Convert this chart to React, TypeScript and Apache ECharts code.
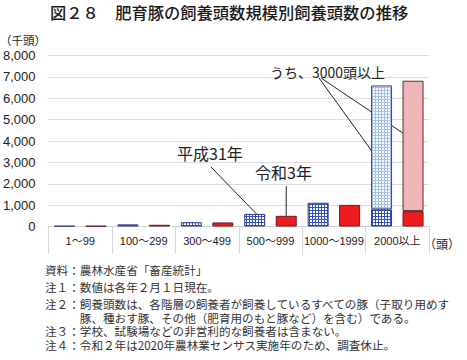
import React, { useEffect, useRef } from 'react';
import * as echarts from 'echarts';

const categories = ['1～99', '100～299', '300～499', '500～999', '1000～1999', '2000以上'];
const h31Values = [30, 100, 200, 590, 1110, 800];
const h31Over3000 = [null, null, null, null, null, 5800];
const r3Values = [25, 80, 190, 500, 1010, 720];
const r3Over3000 = [null, null, null, null, null, 6100];
const yMax = 8000;
const yInterval = 1000;

const titleText = '図２８　肥育豚の飼養頭数規模別飼養頭数の推移';
const noteSource = '資料：農林水産省「畜産統計」';
const note1 = '注１：数値は各年２月１日現在。';
const noteBlock = [
  '注２：飼養頭数は、各階層の飼養者が飼養しているすべての豚（子取り用めす',
  '　　　豚、種おす豚、その他（肥育用のもと豚など）を含む）である。',
  '注３：学校、試験場などの非営利的な飼養者は含まない。',
  '注４：令和２年は2020年農林業センサス実施年のため、調査休止。',
];

const CJK = '"Noto Sans CJK JP", "Noto Sans", sans-serif';
const LAT = '"Liberation Sans", Arial, "Noto Sans CJK JP", sans-serif';

function gridPattern(line: string, bg: string) {
  const c = document.createElement('canvas');
  c.width = 3;
  c.height = 3;
  const ctx = c.getContext('2d')!;
  ctx.fillStyle = bg;
  ctx.fillRect(0, 0, 3, 3);
  ctx.fillStyle = line;
  ctx.fillRect(0, 0, 3, 1);
  ctx.fillRect(0, 0, 1, 3);
  return { image: c, repeat: 'repeat', imageWidth: 3, imageHeight: 3 } as any;
}

export default function App() {
  const ref = useRef<HTMLDivElement>(null);
  useEffect(() => {
    document.body.style.margin = '0';
    const chart = echarts.init(ref.current!, null, { renderer: 'svg' });
    const darkBlue = gridPattern('#3552c4', '#ffffff');
    const lightBlue = gridPattern('#a7bfea', '#f6f9fe');
    const barW = 21;
    chart.setOption({
      animation: false,
      grid: { left: 48, right: 38, top: 55.5, bottom: 133.5, containLabel: false },
      xAxis: {
        type: 'category',
        data: categories,
        axisLine: { show: true, lineStyle: { color: '#cfcfcf', width: 1 } },
        axisTick: { show: true, length: 27, lineStyle: { color: '#d6d6d6' } },
        axisLabel: { interval: 0, fontSize: 11, color: '#222', margin: 9, fontFamily: LAT },
      },
      yAxis: {
        type: 'value',
        min: 0,
        max: yMax,
        interval: yInterval,
        axisLine: { show: false },
        axisTick: { show: false },
        axisLabel: {
          fontSize: 13,
          color: '#222',
          margin: 13,
          fontFamily: LAT,
          formatter: (v: number) => v.toLocaleString('en-US'),
        },
        splitLine: { lineStyle: { color: '#dcdcdc' } },
      },
      series: [
        {
          name: '平成31年', type: 'bar', stack: 'h31', data: h31Values, barWidth: barW, barGap: '50%',
          itemStyle: { color: darkBlue, borderColor: '#2b3c86', borderWidth: 1 },
        },
        {
          name: '平成31年うち3000頭以上', type: 'bar', stack: 'h31', data: h31Over3000, barWidth: barW,
          itemStyle: { color: lightBlue, borderColor: '#3a4a78', borderWidth: 1 },
        },
        {
          name: '令和3年', type: 'bar', stack: 'r3', data: r3Values, barWidth: barW, barGap: '50%',
          itemStyle: { color: '#ee1c1f', borderColor: '#6e1a1a', borderWidth: 1 },
        },
        {
          name: '令和3年うち3000頭以上', type: 'bar', stack: 'r3', data: r3Over3000, barWidth: barW,
          itemStyle: { color: '#f1b5b9', borderColor: '#4a3434', borderWidth: 1 },
        },
      ],
    });

    const layout = (si: number, di: number) => {
      try {
        return (chart as any).getModel().getSeriesByIndex(si).getData().getItemLayout(di);
      } catch (e) {
        return null;
      }
    };
    const yPix = (v: number) => chart.convertToPixel({ yAxisIndex: 0 }, v) as number;
    const h31Mid = layout(0, 3);
    const r3Mid = layout(2, 3);
    const h31Big = layout(1, 5);
    const r3Big = layout(3, 5);
    const lines: any[] = [];
    const lineStyle = { stroke: '#222', lineWidth: 1 };
    if (h31Mid) {
      lines.push({ type: 'line', shape: { x1: 211, y1: 167, x2: h31Mid.x + h31Mid.width * 0.58, y2: yPix(h31Values[3]) }, style: lineStyle });
    }
    if (r3Mid) {
      const cx = r3Mid.x + r3Mid.width / 2;
      lines.push({ type: 'line', shape: { x1: cx, y1: 186, x2: cx, y2: yPix(r3Values[3]) }, style: lineStyle });
    }
    if (h31Big) {
      lines.push({ type: 'line', shape: { x1: 319, y1: 78, x2: h31Big.x + h31Big.width / 2, y2: yPix(2900) }, style: lineStyle });
    }
    if (r3Big) {
      lines.push({ type: 'line', shape: { x1: 321, y1: 78, x2: r3Big.x + r3Big.width / 2, y2: yPix(4050) }, style: lineStyle });
    }

    const txt = (text: string, x: number, y: number, size: number, extra: any = {}) => ({
      type: 'text',
      x,
      y,
      style: { text, fontSize: size, fill: '#222', fontFamily: CJK, verticalAlign: 'middle', ...extra },
    });

    chart.setOption({
      graphic: [
        txt(titleText, 50, 12, 16.3, { fill: '#1a1a1a', fontWeight: 500 }),
        txt('（千頭）', 0, 40, 11.5),
        txt('（頭）', 424, 243.5, 12),
        txt('平成31年', 177, 153, 16),
        txt('令和3年', 255, 172, 16),
        txt('うち、3000頭以上', 270, 72, 14),
        txt(noteSource, 45, 270, 11.6, { fill: '#333' }),
        txt(note1, 45, 287, 11.6, { fill: '#333' }),
        txt(noteBlock.join('\n'), 45, 297.5, 11.6, { fill: '#333', lineHeight: 13.5, verticalAlign: 'top' }),
        ...lines,
      ],
    });

    return () => chart.dispose();
  }, []);
  return <div ref={ref} style={{ width: 467, height: 360 }} />;
}
